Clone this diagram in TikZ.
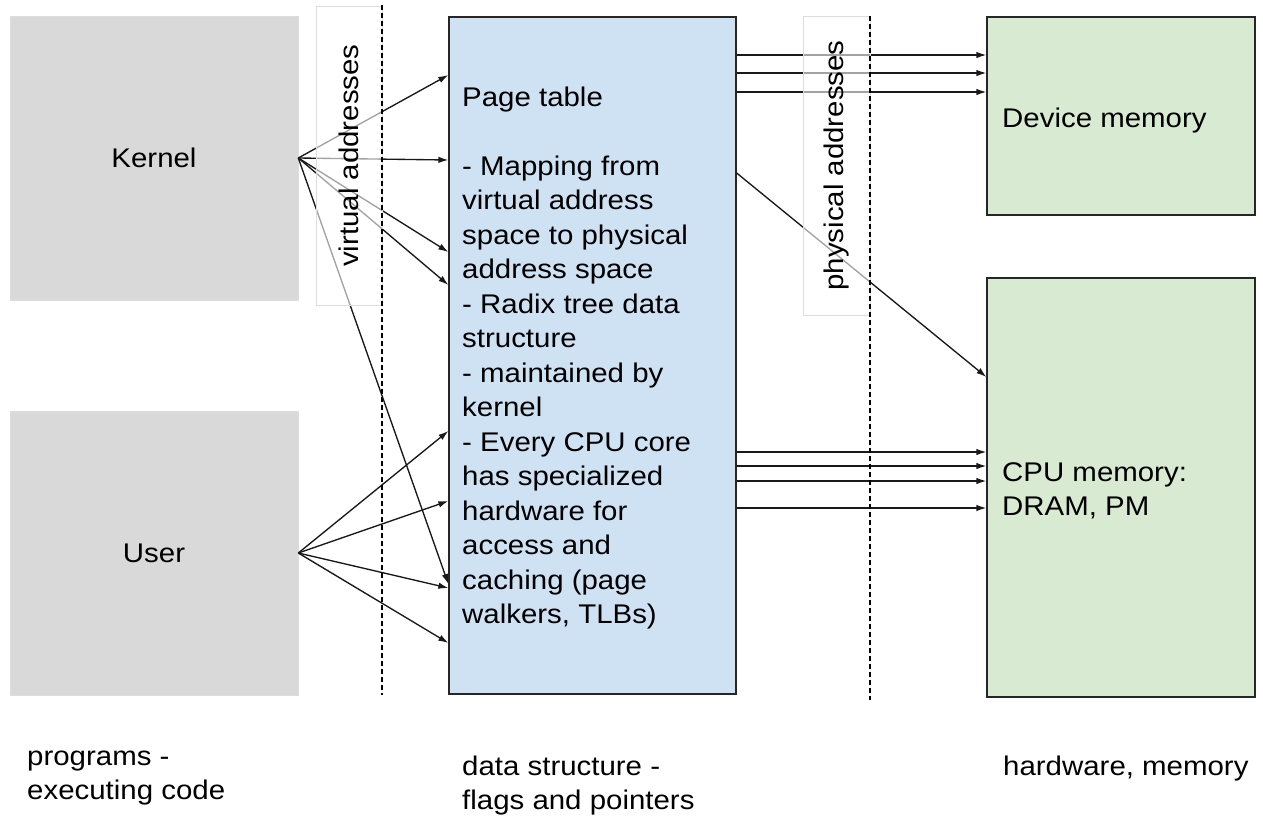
\documentclass[tikz,border=0pt]{standalone}
\usepackage{fontspec}
\setmainfont[FakeStretch=1.09]{Liberation Sans}
\usetikzlibrary{arrows.meta}
\definecolor{boxgray}{HTML}{D9D9D9}
\definecolor{boxblue}{HTML}{CFE2F3}
\definecolor{boxgreen}{HTML}{D9EAD3}
\definecolor{lightedge}{HTML}{DDDDDD}
\newcommand\mylines[1]{\begin{tabular}[t]{@{}l@{}}#1\end{tabular}}
\begin{document}
\begin{tikzpicture}[x=1pt,y=-1pt,
  font=\fontsize{27}{34.5}\selectfont,
  graybox/.style={draw=lightedge, line width=0.6pt, fill=boxgray, inner sep=0pt},
  bluebox/.style={draw=black!85, line width=1.3pt, fill=boxblue, inner sep=0pt},
  greenbox/.style={draw=black!85, line width=1.3pt, fill=boxgreen, inner sep=0pt},
  labelbox/.style={draw=lightedge, line width=0.6pt, fill=white, fill opacity=0.6, text opacity=1, inner sep=0pt, rotate=90},
  txt/.style={inner sep=0pt, anchor=base west},
  arr/.style={-{Latex[length=10pt,width=6.5pt]}, line width=1.35pt, draw=black!90},
  dashline/.style={line width=1.3pt, dash pattern=on 5pt off 3pt}]
\useasboundingbox (0,0) rectangle (1263,817);

% boxes
\node[graybox, minimum width=288pt, minimum height=284pt] (kernel) at (154,158) {Kernel};
\node[graybox, minimum width=288pt, minimum height=284pt] (user) at (154,553) {User};
\node[bluebox, minimum width=287pt, minimum height=677pt] (pt) at (592.5,355.5) {};
\node[greenbox, minimum width=268pt, minimum height=198pt] (dev) at (1121,116) {};
\node[greenbox, minimum width=268pt, minimum height=419pt] (cpu) at (1121,487.5) {};

% texts in boxes
\node[txt] (pttext) at (462,106) {\mylines{Page table\\ \\- Mapping from\\virtual address\\space to physical\\address space\\- Radix tree data\\structure\\- maintained by\\kernel\\- Every CPU core\\has specialized\\hardware for\\access and\\caching (page\\walkers, TLBs)}};
\node[txt] (devtext) at (1002,127) {Device memory};
\node[txt] (cputext) at (1002,481) {\mylines{CPU memory:\\DRAM, PM}};

% arrows kernel -> page table
\draw[arr] (kernel.east) -- (pt.west |- 0,75);
\draw[arr] (kernel.east) -- (pt.west |- 0,160);
\draw[arr] (kernel.east) -- (pt.west |- 0,252);
\draw[arr] (kernel.east) -- (pt.west |- 0,285);
\draw[arr] (kernel.east) -- (pt.west |- 0,584);
% arrows user -> page table
\draw[arr] (user.east) -- (pt.west |- 0,431);
\draw[arr] (user.east) -- (pt.west |- 0,501);
\draw[arr] (user.east) -- (pt.west |- 0,588);
\draw[arr] (user.east) -- (pt.west |- 0,643);
% arrows page table -> memory
\draw[arr] (pt.east |- 0,55) -- (dev.west |- 0,55);
\draw[arr] (pt.east |- 0,73) -- (dev.west |- 0,73);
\draw[arr] (pt.east |- 0,92) -- (dev.west |- 0,92);
\draw[arr] (pt.east |- 0,173) -- (cpu.west |- 0,377);
\draw[arr] (pt.east |- 0,452) -- (cpu.west |- 0,452);
\draw[arr] (pt.east |- 0,466) -- (cpu.west |- 0,466);
\draw[arr] (pt.east |- 0,481) -- (cpu.west |- 0,481);
\draw[arr] (pt.east |- 0,508) -- (cpu.west |- 0,508);

% address labels
\node[labelbox, minimum width=299pt, minimum height=66pt] (vlab) at (349,155.5) {virtual addresses};
\node[labelbox, minimum width=299pt, minimum height=67pt] (plab) at (836.5,165.5) {physical addresses};

% dashed separators
\coordinate (v1) at (382,5);
\coordinate (v2) at (382,695);
\coordinate (p1) at (870,16);
\coordinate (p2) at (870,700);
\draw[dashline] (v1) -- (v2);
\draw[dashline] (p1) -- (p2);

% bottom captions
\node[txt] (cap1) at (27,765) {\mylines{programs -\\executing code}};
\node[txt] (cap2) at (462,775) {\mylines{data structure -\\flags and pointers}};
\node[txt] (cap3) at (1003,775) {hardware, memory};
\end{tikzpicture}
\end{document}
